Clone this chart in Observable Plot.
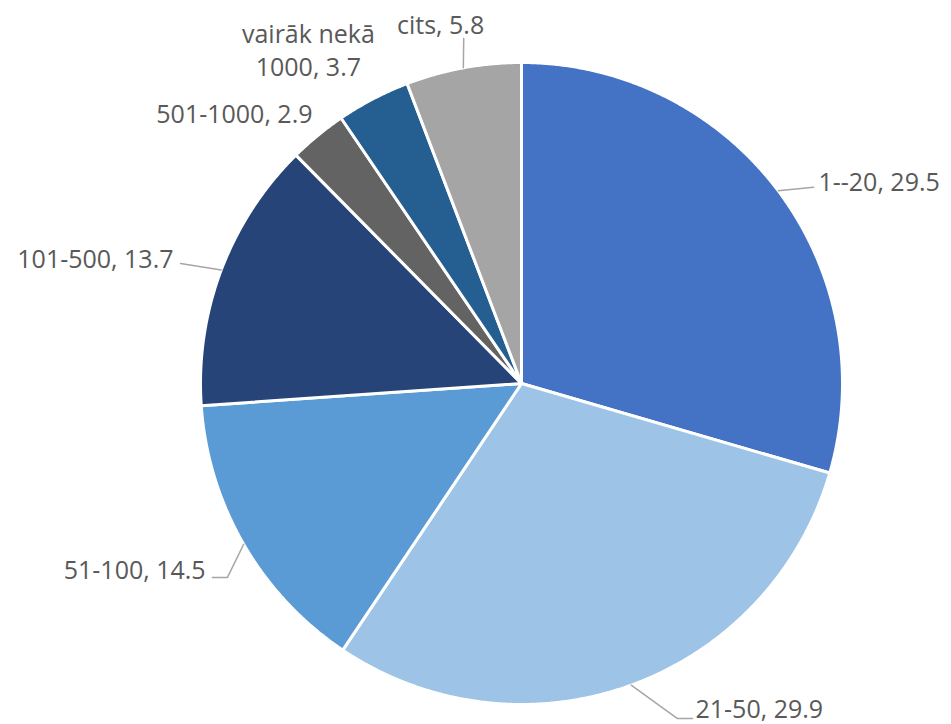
<!DOCTYPE html>
<html><head><meta charset="utf-8">
<script src="https://cdn.jsdelivr.net/npm/d3@7"></script>
<script src="https://cdn.jsdelivr.net/npm/@observablehq/plot@0.6"></script>
<style>body{margin:0;background:#fff}</style>
</head><body><div id="chart"></div>
<script>
// ---- data ----
const categories = ["1--20", "21-50", "51-100", "101-500", "501-1000", "vairāk nekā 1000", "cits"];
const values = [29.5, 29.9, 14.5, 13.7, 2.9, 3.7, 5.8];
const labelTexts = ["1--20, 29.5", "21-50, 29.9", "51-100, 14.5", "101-500, 13.7", "501-1000, 2.9", "vairāk nekā\n1000, 3.7", "cits, 5.8"];
const colors = ["#4472C4", "#9DC3E6", "#5B9BD5", "#264478", "#636363", "#255E91", "#A5A5A5"];

// ---- layout (unit = pie radius, y up, origin = pie centre) ----
const W = 951, H = 724, CX = 521, CY = 383, R = 321;
const labelLayout = [
  {x: 0.925, y: 0.632, anchor: "start", leader: [[0.910, 0.611]]},
  {x: 0.542, y: -1.008, anchor: "start", leader: [[0.486, -1.044], [0.533, -1.044]]},
  {x: -0.984, y: -0.576, anchor: "end", leader: [[-0.916, -0.604], [-0.963, -0.604]]},
  {x: -1.084, y: 0.393, anchor: "end", leader: [[-1.062, 0.374]]},
  {x: -0.651, y: 0.844, anchor: "end", leader: null},
  {x: -0.664, y: 1.042, anchor: "middle", leader: null},
  {x: -0.252, y: 1.121, anchor: "middle", leader: [[-0.18, 1.075]]}
];

// ---- geometry via d3.pie ----
const arcs = d3.pie().sort(null).value(d => d)(values);
const slicePts = [];
arcs.forEach((a, i) => {
  const n = Math.max(2, Math.ceil((a.endAngle - a.startAngle) / 0.005));
  slicePts.push({cat: categories[i], x: 0, y: 0});
  for (let k = 0; k <= n; k++) {
    const t = a.startAngle + (a.endAngle - a.startAngle) * k / n;
    slicePts.push({cat: categories[i], x: Math.sin(t), y: Math.cos(t)});
  }
  slicePts.push({cat: categories[i], x: 0, y: 0});
});

const leaderPts = [];
const labels = [];
arcs.forEach((a, i) => {
  const L = labelLayout[i];
  const mid = (a.startAngle + a.endAngle) / 2;
  labels.push({x: L.x, y: L.y, text: labelTexts[i], anchor: L.anchor});
  if (L.leader) {
    leaderPts.push({id: i, x: Math.sin(mid), y: Math.cos(mid)});
    L.leader.forEach(p => leaderPts.push({id: i, x: p[0], y: p[1]}));
  }
});

const textOpts = {x: "x", y: "y", text: "text", fill: "#595959", fontSize: 25,
  fontFamily: "Open Sans", lineHeight: 1.32};

const chart = Plot.plot({
  width: W, height: H, margin: 0,
  x: {domain: [-CX / R, (W - CX) / R], axis: null},
  y: {domain: [-(H - CY) / R, CY / R], axis: null},
  color: {domain: categories, range: colors},
  style: {background: "white", overflow: "visible"},
  marks: [
    Plot.line(slicePts, {x: "x", y: "y", z: "cat", fill: "cat", stroke: "white", strokeWidth: 3, strokeLinejoin: "round"}),
    Plot.line(leaderPts, {x: "x", y: "y", z: "id", stroke: "#a6a6a6", strokeWidth: 1.5}),
    Plot.text(labels.filter(d => d.anchor === "start"), {...textOpts, textAnchor: "start"}),
    Plot.text(labels.filter(d => d.anchor === "end"), {...textOpts, textAnchor: "end"}),
    Plot.text(labels.filter(d => d.anchor === "middle"), {...textOpts, textAnchor: "middle"})
  ]
});
document.getElementById("chart").appendChild(chart);
</script>
</body></html>
